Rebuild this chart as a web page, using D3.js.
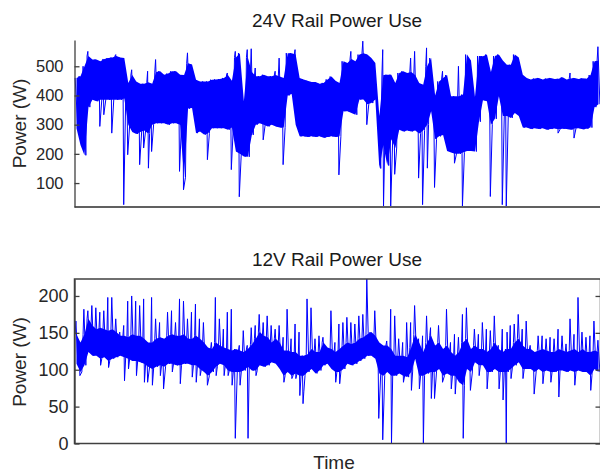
<!DOCTYPE html>
<html>
<head>
<meta charset="utf-8">
<script src="https://cdnjs.cloudflare.com/ajax/libs/d3/7.8.5/d3.min.js"></script>
<style>
  body { margin: 0; background: #fff; }
  svg { display: block; font-family: "Liberation Sans", Arial, Helvetica, sans-serif; }
</style>
</head>
<body>
<svg width="600" height="473"></svg>
<script>
// 24V rail: upper / lower edge of the dense signal per time bin, plus isolated spikes [bin, W]
const hi24 = [
  460, 466, 500, 535, 523, 523, 517, 525, 528, 530,
  535, 530, 528, 443, 470, 448, 440, 440, 445, 440,
  480, 483, 471, 475, 483, 483, 471, 470, 510, 506,
  454, 448, 448, 448, 454, 455, 456, 460, 470, 450,
  530, 545, 380, 530, 480, 466, 466, 471, 466, 466,
  470, 465, 460, 545, 545, 540, 460, 455, 450, 446,
  446, 440, 443, 455, 465, 450, 443, 517, 511, 525,
  517, 540, 545, 540, 528, 511, 330, 470, 471, 471,
  443, 477, 483, 477, 480, 470, 443, 437, 500, 528,
  400, 448, 460, 470, 397, 397, 397, 403, 540, 520,
  395, 535, 534, 540, 480, 535, 540, 520, 505, 505,
  540, 530, 471, 460, 455, 458, 460, 455, 458, 460,
  456, 457, 462, 455, 458, 460, 456, 459, 457, 470,
  517, 520
];
const lo24 = [
  288, 230, 195, 360, 385, 380, 385, 385, 385, 385,
  385, 385, 390, 300, 275, 268, 275, 280, 270, 300,
  305, 305, 305, 300, 305, 305, 300, 120, 355, 357,
  271, 277, 266, 270, 288, 288, 288, 288, 283, 290,
  208, 200, 191, 190, 265, 300, 305, 300, 294, 300,
  294, 290, 290, 400, 405, 300, 260, 260, 258, 260,
  258, 260, 255, 258, 260, 258, 260, 346, 346, 340,
  334, 386, 386, 370, 374, 386, 150, 230, 160, 250,
  220, 283, 277, 280, 277, 280, 270, 280, 300, 346,
  250, 260, 265, 210, 205, 200, 200, 205, 210, 210,
  208, 310, 384, 380, 300, 320, 397, 330, 330, 323,
  340, 330, 290, 290, 285, 288, 285, 288, 283, 285,
  287, 284, 286, 285, 283, 287, 288, 284, 286, 290,
  360, 370
];
const spikes24 = [
  [3, 551], [6, 294], [7, 334], [9, 271], [10, 540], [12, 26], [13, 197], [14, 488],
  [16, 163], [17, 220], [18, 483], [18, 151], [19, 208], [20, 523], [26, 140], [27, 77],
  [28, 546], [33, 180], [38, 477], [39, 146], [40, 551], [41, 53], [43, 557], [44, 560],
  [45, 494], [47, 248], [50, 483], [51, 528], [52, 163], [55, 557], [66, 128], [69, 551],
  [72, 586], [73, 300], [77, 557], [77, 20], [79, 20], [80, 130], [84, 528], [85, 551],
  [86, 117], [87, 26], [88, 563], [88, 151], [90, 85], [92, 483], [95, 168], [96, 500],
  [97, 20], [104, 54], [107, 26], [108, 20], [121, 271], [124, 477], [125, 254], [131, 567]
];

// 12V rail
const hi12 = [
  148, 137, 148, 169, 160, 155, 157, 155, 153, 155,
  151, 146, 146, 144, 148, 146, 146, 142, 137, 137,
  142, 144, 142, 146, 148, 146, 146, 148, 142, 142,
  146, 142, 137, 130, 128, 137, 133, 130, 128, 126,
  128, 126, 124, 128, 134, 142, 151, 146, 144, 137,
  142, 137, 126, 126, 124, 124, 119, 119, 121, 128,
  124, 124, 137, 130, 128, 124, 128, 133, 137, 135,
  137, 142, 144, 148, 151, 146, 137, 133, 133, 128,
  119, 119, 119, 117, 130, 148, 137, 124, 137, 146,
  133, 137, 128, 133, 124, 119, 124, 137, 142, 128,
  133, 128, 128, 124, 128, 137, 128, 124, 128, 128,
  137, 142, 133, 128, 128, 124, 126, 128, 126, 124,
  124, 128, 126, 124, 126, 128, 124, 128, 124, 124,
  126, 124
];
const lo12 = [
  108, 97, 106, 124, 119, 119, 115, 117, 112, 115,
  117, 119, 117, 115, 112, 112, 110, 108, 104, 101,
  104, 106, 104, 108, 108, 106, 106, 108, 108, 106,
  106, 101, 97, 92, 97, 104, 108, 106, 99, 97,
  97, 97, 99, 104, 99, 99, 106, 104, 106, 110,
  108, 101, 92, 97, 92, 95, 92, 92, 97, 101,
  95, 99, 106, 108, 101, 97, 97, 101, 108, 106,
  108, 112, 115, 119, 119, 115, 95, 92, 97, 92,
  92, 95, 92, 90, 97, 115, 92, 92, 95, 97,
  97, 101, 92, 95, 92, 92, 83, 79, 101, 97,
  110, 106, 106, 97, 97, 101, 97, 97, 97, 101,
  106, 110, 101, 101, 101, 97, 101, 97, 99, 97,
  97, 99, 99, 97, 99, 97, 99, 97, 97, 92,
  101, 97
];
const spikes12 = [
  [0, 166], [1, 92], [2, 182], [3, 180], [4, 187], [5, 184], [6, 178], [6, 106],
  [7, 180], [8, 198], [8, 103], [9, 198], [10, 169], [11, 151], [12, 160], [12, 85],
  [13, 193], [13, 101], [14, 200], [15, 193], [15, 92], [16, 187], [17, 196], [17, 83],
  [18, 83], [19, 198], [19, 79], [20, 169], [21, 164], [21, 92], [22, 74], [23, 178],
  [24, 180], [24, 97], [25, 164], [26, 196], [26, 81], [27, 193], [28, 169], [29, 178],
  [29, 90], [30, 189], [30, 83], [31, 169], [31, 92], [32, 164], [33, 79], [34, 137],
  [35, 198], [35, 92], [36, 169], [37, 155], [37, 92], [38, 178], [38, 92], [39, 182],
  [39, 79], [40, 7], [41, 133], [41, 79], [42, 153], [43, 133], [43, 7], [44, 157],
  [45, 160], [45, 92], [46, 175], [47, 164], [48, 173], [49, 160], [50, 155], [51, 160],
  [52, 144], [52, 83], [53, 182], [54, 142], [54, 88], [55, 162], [55, 88], [56, 151],
  [56, 65], [57, 54], [57, 70], [58, 196], [59, 184], [60, 142], [61, 146], [62, 144],
  [64, 180], [65, 137], [65, 83], [66, 162], [66, 81], [67, 164], [68, 171], [69, 164],
  [70, 162], [71, 173], [72, 175], [73, 223], [75, 180], [76, 34], [77, 5], [78, 139],
  [79, 182], [79, 0], [80, 173], [81, 142], [82, 137], [82, 83], [83, 164], [84, 164],
  [84, 72], [85, 187], [86, 142], [86, 74], [87, 146], [87, 0], [88, 173], [89, 157],
  [89, 61], [90, 61], [91, 160], [92, 83], [93, 182], [94, 137], [94, 74], [95, 148],
  [95, 67], [96, 144], [97, 175], [97, 7], [98, 184], [99, 72], [100, 155], [101, 148],
  [101, 92], [102, 164], [103, 155], [103, 74], [104, 153], [105, 173], [106, 133], [106, 74],
  [107, 155], [107, 59], [108, 0], [108, 151], [109, 160], [109, 88], [110, 162], [111, 175],
  [112, 155], [112, 88], [113, 166], [114, 133], [115, 67], [116, 146], [117, 146], [117, 81],
  [118, 142], [119, 144], [119, 83], [120, 142], [121, 155], [121, 63], [122, 146], [123, 135],
  [124, 169], [125, 148], [125, 79], [126, 198], [127, 151], [128, 144], [129, 146], [129, 72],
  [130, 166], [131, 140]
];

const ticks24 = [100, 200, 300, 400, 500];
const ticks12 = [0, 50, 100, 150, 200];

const svg = d3.select("svg");
const blue = "#0000ff";
const axisColor = "#404040";
const font = '"Liberation Sans", Arial, Helvetica, sans-serif';

const x = d3
  .scaleLinear()
  .domain([0, hi24.length])
  .range([74.5, 600.5]);

const y24 = d3
  .scaleLinear()
  .domain([18, 590])
  .range([207, 40]);

const y12 = d3
  .scaleLinear()
  .domain([0, 223])
  .range([443.5, 279]);

// sample sequence: top of bin, any spikes, bottom of bin
function signal(hi, lo, spikes) {
  const pts = [];
  hi.forEach((h, i) => {
    pts.push({ t: i + 0.15, v: h });
    spikes
      .filter(s => s[0] === i)
      .forEach((s, k) => pts.push({ t: i + 0.35 + k * 0.2, v: s[1] }));
    pts.push({ t: i + 0.85, v: lo[i] });
  });
  return pts;
}

function drawSignal(hi, lo, spikes, y) {
  const band = hi.map((h, i) => ({ t: i + 0.5, hi: h, lo: lo[i] }));
  svg
    .append("path")
    .datum(band)
    .attr("d", d3.area().x(d => x(d.t)).y0(d => y(d.lo)).y1(d => y(d.hi)))
    .attr("fill", blue);
  svg
    .append("path")
    .datum(signal(hi, lo, spikes))
    .attr("d", d3.line().x(d => x(d.t)).y(d => y(d.v)))
    .attr("fill", "none")
    .attr("stroke", blue)
    .attr("stroke-width", 1);
}

function styleAxis(g, size) {
  g.attr("font-family", font).attr("font-size", size);
  g.selectAll(".domain").attr("stroke", axisColor).attr("stroke-width", 1.3);
  g.selectAll(".tick line").attr("stroke", axisColor).attr("stroke-width", 1.3);
  g.selectAll(".tick text")
    .attr("fill", "#262626")
    .style("font-size", size + "px")
    .style("font-family", font);
}

// ---- top panel ----
drawSignal(hi24, lo24, spikes24, y24);

svg
  .append("line")
  .attr("x1", 74.5)
  .attr("x2", 600.5)
  .attr("y1", 207)
  .attr("y2", 207)
  .attr("stroke", "#606060")
  .attr("stroke-width", 2);

svg
  .append("g")
  .attr("transform", "translate(74.5,0)")
  .call(d3.axisLeft(y24).tickValues(ticks24).tickSize(-5).tickSizeOuter(0).tickPadding(11))
  .call(g => styleAxis(g, 16.5));

// ---- bottom panel ----
drawSignal(hi12, lo12, spikes12, y12);

svg
  .append("rect")
  .attr("x", 74.5)
  .attr("y", 279)
  .attr("width", 526)
  .attr("height", 164.5)
  .attr("fill", "none")
  .attr("stroke", axisColor)
  .attr("stroke-width", 1.5);

svg
  .append("g")
  .attr("transform", "translate(74.5,0)")
  .call(d3.axisLeft(y12).tickValues(ticks12).tickSize(-5).tickSizeOuter(0).tickPadding(6))
  .call(g => styleAxis(g, 18));

svg
  .append("g")
  .attr("transform", "translate(600.5,0)")
  .call(d3.axisRight(y12).tickValues(ticks12).tickSize(-5).tickSizeOuter(0).tickFormat(""))
  .call(g => styleAxis(g, 18));

// ---- titles and labels ----
const titles = [
  { text: "24V Rail Power Use", y: 27 },
  { text: "12V Rail Power Use", y: 266 }
];

svg
  .selectAll("text.title")
  .data(titles)
  .enter()
  .append("text")
  .attr("class", "title")
  .attr("x", 337)
  .attr("y", d => d.y)
  .attr("text-anchor", "middle")
  .attr("font-family", font)
  .attr("font-size", 19)
  .attr("fill", "#1a1a1a")
  .text(d => d.text);

svg
  .selectAll("text.ylabel")
  .data([123.5, 362])
  .enter()
  .append("text")
  .attr("class", "ylabel")
  .attr("transform", d => `translate(26,${d}) rotate(-90)`)
  .attr("text-anchor", "middle")
  .attr("font-family", font)
  .attr("font-size", 19)
  .attr("fill", "#262626")
  .text("Power (W)");

svg
  .append("text")
  .attr("x", 334)
  .attr("y", 469)
  .attr("text-anchor", "middle")
  .attr("font-family", font)
  .attr("font-size", 19)
  .attr("fill", "#262626")
  .text("Time");
</script>
</body>
</html>
